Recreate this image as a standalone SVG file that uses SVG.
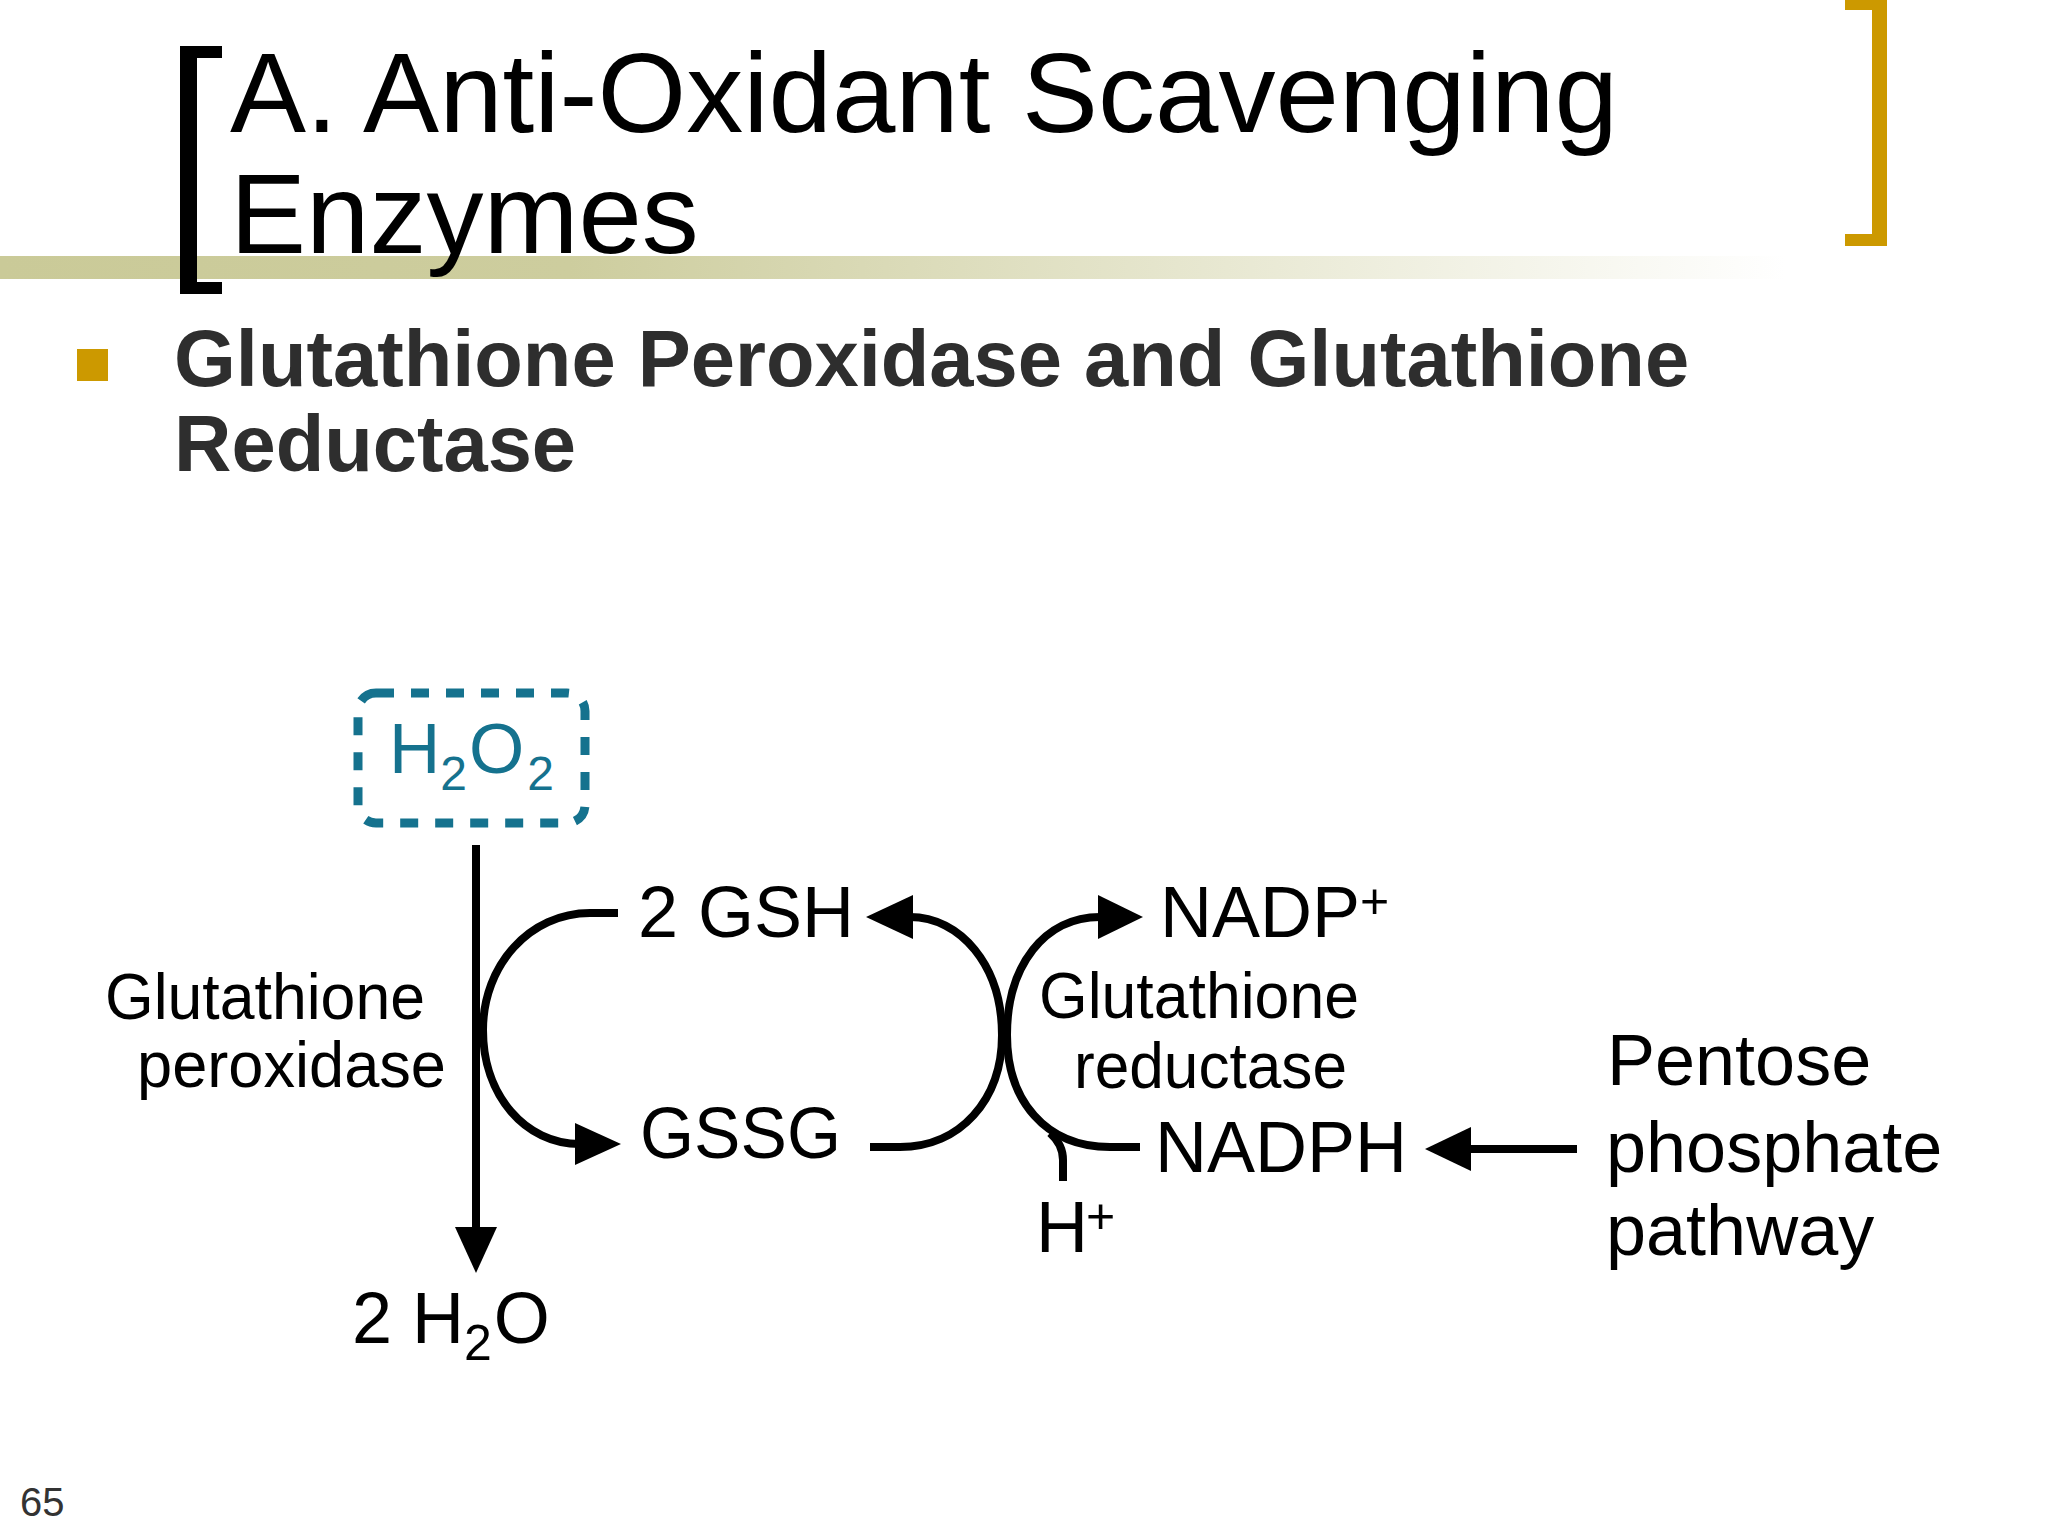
<svg xmlns="http://www.w3.org/2000/svg" width="2048" height="1536" viewBox="0 0 2048 1536">
  <defs>
    <linearGradient id="band" x1="0" y1="0" x2="1900" y2="0" gradientUnits="userSpaceOnUse">
      <stop offset="0" stop-color="#CACA98"/>
      <stop offset="0.3" stop-color="#CDCD9E"/>
      <stop offset="0.62" stop-color="#E6E6CE"/>
      <stop offset="0.94" stop-color="#FFFFFF"/>
    </linearGradient>
    <style>
      .title { font-family: "Liberation Sans", Arial, sans-serif; font-size: 114px; fill: #000; }
      .sub { font-family: "Liberation Sans", Arial, sans-serif; font-size: 79.5px; font-weight: bold; fill: #2E2E2E; }
      .lbl { font-family: "Liberation Sans", Arial, sans-serif; fill: #000; }
      .sp { font-size: 72px; }
      .enz { font-size: 64px; }
      .teal { fill: #15728E; }
      .line { fill: none; stroke: #000; stroke-width: 8; }
      .head { fill: #000; stroke: none; }
    </style>
  </defs>
  <rect width="2048" height="1536" fill="#FFFFFF"/>

  <!-- header -->
  <g id="header">
    <rect x="0" y="256" width="1900" height="23" fill="url(#band)"/>
    <path d="M180 46 H222 V58 H197 V282 H222 V294 H180 Z" fill="#000"/>
    <path d="M1845 0 H1887 V246 H1845 V234 H1872 V10 H1845 Z" fill="#CC9900"/>
    <text class="title" x="230" y="132">A. Anti-Oxidant Scavenging</text>
    <text class="title" x="230" y="253">Enzymes</text>
    <rect x="77" y="349" width="31" height="32" fill="#CC9900"/>
    <text class="sub" x="174" y="386">Glutathione Peroxidase and Glutathione</text>
    <text class="sub" x="174" y="471">Reductase</text>
  </g>

  <!-- connectors -->
  <g id="connectors">
    <line class="line" x1="476" y1="845" x2="476" y2="1232" stroke-width="9"/>
    <polygon class="head" points="455,1227 497,1227 476,1273"/>
    <path class="line" d="M618 913 H590 C530 913 483 965 483 1030 C483 1095 525 1144 580 1144"/>
    <polygon class="head" points="575,1123 575,1165 621,1144"/>
    <path class="line" d="M870 1147 H900 C960 1147 1002 1100 1002 1035 C1002 965 960 917 910 917"/>
    <polygon class="head" points="866,917 913,895 913,939"/>
    <path class="line" d="M1140 1147 H1110 C1045 1147 1007 1100 1007 1035 C1007 965 1045 917 1100 917"/>
    <polygon class="head" points="1143,917 1098,895 1098,939"/>
    <path class="line" d="M1050 1133 C1058 1140 1063 1148 1063 1160 V1181"/>
    <line class="line" x1="1577" y1="1149" x2="1465" y2="1149" stroke-width="12"/>
    <polygon class="head" points="1425,1149 1471,1127 1471,1171"/>
  </g>

  <!-- nodes -->
  <g id="h2o2">
    <rect x="358" y="693" width="227" height="130" rx="18" ry="18" fill="none" stroke="#15728E" stroke-width="9" stroke-dasharray="18 17"/>
    <text class="lbl teal" x="389" y="773" font-size="71">H<tspan font-size="48" dy="17">2</tspan><tspan dy="-17" dx="2">O</tspan><tspan font-size="48" dy="17" dx="3">2</tspan></text>
  </g>
  <g id="h2o">
    <text class="lbl sp" x="352" y="1343">2 H<tspan font-size="50" dy="17">2</tspan><tspan dy="-17" dx="2">O</tspan></text>
  </g>
  <g id="gpx-label">
    <text class="lbl enz" x="105" y="1019" textLength="320" lengthAdjust="spacingAndGlyphs">Glutathione</text>
    <text class="lbl enz" x="137" y="1087" textLength="309" lengthAdjust="spacingAndGlyphs">peroxidase</text>
  </g>
  <g id="gsh">
    <text class="lbl sp" x="638" y="937">2 GSH</text>
  </g>
  <g id="gssg">
    <text class="lbl sp" x="640" y="1158" textLength="201" lengthAdjust="spacingAndGlyphs">GSSG</text>
  </g>
  <g id="gr-label">
    <text class="lbl enz" x="1039" y="1018" textLength="320" lengthAdjust="spacingAndGlyphs">Glutathione</text>
    <text class="lbl enz" x="1074" y="1088" textLength="273" lengthAdjust="spacingAndGlyphs">reductase</text>
  </g>
  <g id="nadp">
    <text class="lbl sp" x="1160" y="937">NADP<tspan font-size="50" x="1360" y="918">+</tspan></text>
  </g>
  <g id="nadph">
    <text class="lbl sp" x="1155" y="1172">NADPH</text>
  </g>
  <g id="hplus">
    <text class="lbl sp" x="1036" y="1252">H<tspan font-size="50" x="1086" y="1233">+</tspan></text>
  </g>
  <g id="ppp">
    <text class="lbl sp" x="1607" y="1085">Pentose</text>
    <text class="lbl sp" x="1606" y="1172">phosphate</text>
    <text class="lbl sp" x="1606" y="1255">pathway</text>
  </g>
  <text x="20" y="1516" font-family="Liberation Sans, Arial, sans-serif" font-size="40" fill="#333333">65</text>
</svg>
